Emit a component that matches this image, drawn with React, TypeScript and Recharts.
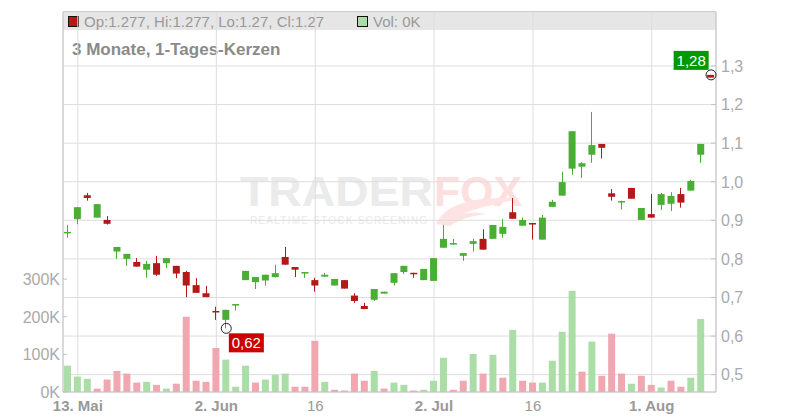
import React from 'react';
import { ComposedChart, Bar, XAxis, YAxis, CartesianGrid, Cell, ReferenceDot } from 'recharts';

const FONT = '"Liberation Sans", Arial, sans-serif';

// trading days, 12 May - 11 Aug 2025
const dates = [
  '12.05.', '13.05.', '14.05.', '15.05.', '16.05.', '19.05.', '20.05.', '21.05.', '22.05.', '23.05.',
  '26.05.', '27.05.', '28.05.', '29.05.', '30.05.', '02.06.', '03.06.', '04.06.', '05.06.', '06.06.',
  '09.06.', '10.06.', '11.06.', '12.06.', '13.06.', '16.06.', '17.06.', '18.06.', '19.06.', '20.06.',
  '23.06.', '24.06.', '25.06.', '26.06.', '27.06.', '30.06.', '01.07.', '02.07.', '03.07.', '04.07.',
  '07.07.', '08.07.', '09.07.', '10.07.', '11.07.', '14.07.', '15.07.', '16.07.', '17.07.', '18.07.',
  '21.07.', '22.07.', '23.07.', '24.07.', '25.07.', '28.07.', '29.07.', '30.07.', '31.07.', '01.08.',
  '04.08.', '05.08.', '06.08.', '07.08.', '08.08.', '11.08.',
];

const opens = [
  0.868, 0.903, 0.965, 0.907, 0.901, 0.819, 0.8, 0.792, 0.772, 0.789,
  0.789, 0.782, 0.766, 0.732, 0.711, 0.665, 0.642, 0.679, 0.745, 0.74,
  0.744, 0.753, 0.805, 0.779, 0.762, 0.745, 0.754, 0.731, 0.745, 0.705,
  0.678, 0.694, 0.71, 0.738, 0.766, 0.764, 0.745, 0.743, 0.829, 0.837,
  0.808, 0.839, 0.852, 0.852, 0.865, 0.921, 0.886, 0.893, 0.85, 0.935,
  0.964, 1.034, 1.039, 1.07, 1.098, 0.97, 0.948, 0.984, 0.901, 0.916,
  0.94, 0.943, 0.968, 0.977, 1.07, 1.277,
];
const highs = [
  0.888, 0.934, 0.971, 0.942, 0.911, 0.831, 0.813, 0.802, 0.795, 0.808,
  0.802, 0.782, 0.769, 0.75, 0.73, 0.676, 0.668, 0.683, 0.769, 0.753,
  0.759, 0.785, 0.831, 0.779, 0.766, 0.751, 0.764, 0.748, 0.745, 0.711,
  0.686, 0.722, 0.715, 0.763, 0.782, 0.764, 0.774, 0.802, 0.888, 0.852,
  0.815, 0.852, 0.877, 0.888, 0.903, 0.958, 0.907, 0.893, 0.914, 0.953,
  1.026, 1.131, 1.051, 1.181, 1.098, 0.981, 0.951, 0.984, 0.932, 0.968,
  0.971, 0.973, 0.984, 1.005, 1.098, 1.277,
];
const lows = [
  0.855, 0.89, 0.951, 0.907, 0.889, 0.8, 0.782, 0.78, 0.751, 0.756,
  0.776, 0.75, 0.701, 0.712, 0.701, 0.642, 0.62, 0.666, 0.745, 0.722,
  0.731, 0.752, 0.785, 0.753, 0.751, 0.715, 0.754, 0.731, 0.723, 0.686,
  0.67, 0.691, 0.71, 0.731, 0.761, 0.751, 0.745, 0.743, 0.829, 0.837,
  0.795, 0.819, 0.824, 0.852, 0.855, 0.904, 0.886, 0.85, 0.85, 0.935,
  0.964, 1.018, 1.01, 1.049, 1.06, 0.951, 0.928, 0.956, 0.901, 0.907,
  0.927, 0.924, 0.933, 0.977, 1.049, 1.27,
];
const closes = [
  0.87, 0.934, 0.958, 0.942, 0.891, 0.831, 0.813, 0.78, 0.787, 0.759,
  0.802, 0.762, 0.731, 0.712, 0.701, 0.662, 0.668, 0.683, 0.769, 0.753,
  0.759, 0.763, 0.785, 0.772, 0.766, 0.731, 0.759, 0.748, 0.723, 0.691,
  0.67, 0.722, 0.715, 0.763, 0.782, 0.761, 0.774, 0.802, 0.852, 0.841,
  0.815, 0.846, 0.824, 0.888, 0.883, 0.904, 0.901, 0.89, 0.907, 0.948,
  0.999, 1.131, 1.048, 1.095, 1.088, 0.961, 0.95, 0.956, 0.932, 0.907,
  0.968, 0.963, 0.946, 1.002, 1.098, 1.27,
];
const volumes = [
  70000, 41000, 35000, 9000, 33000, 56000, 49000, 25000, 27000, 19000,
  9000, 22000, 200000, 30000, 27000, 117000, 86000, 14000, 70000, 25000,
  33000, 46000, 49000, 14000, 14000, 136000, 27000, 6000, 4000, 49000,
  30000, 56000, 9000, 25000, 19000, 4000, 6000, 30000, 91000, 6000,
  30000, 101000, 49000, 99000, 38000, 165000, 30000, 25000, 25000, 83000,
  160000, 269000, 54000, 134000, 43000, 155000, 49000, 22000, 43000, 19000,
  12000, 30000, 14000, 38000, 194000, 0,
];

const priceTicks = [0.5, 0.6, 0.7, 0.8, 0.9, 1.0, 1.1, 1.2, 1.3];
const volumeTicks = [0, 100000, 200000, 300000];
const tickDates = ['13.05.', '02.06.', '16.06.', '02.07.', '16.07.', '01.08.'];
const tickLabels = ['13. Mai', '2. Jun', '16', '2. Jul', '16', '1. Aug'];
const boldTicks = [true, true, false, true, false, true];

const UP = '#4aae34';
const DOWN = '#b41818';
const VOL_UP = '#abdea7';
const VOL_DOWN = '#f0a7b0';
const GRID = '#dddddd';
const AXIS = '#c4c4c4';

const data = dates.map((date, i) => ({
  date,
  open: opens[i],
  high: highs[i],
  low: lows[i],
  close: closes[i],
  range: [lows[i], highs[i]],
  vol: volumes[i],
  volUp: i === 0 ? closes[i] >= opens[i] : closes[i] >= closes[i - 1],
}));

const lastIdx = dates.length - 1;
const minLow = Math.min(...lows);
const minIdx = lows.indexOf(minLow);
const fmt = (v: number, d: number) => v.toFixed(d).replace('.', ',');

function Candle(props: any) {
  const { x, y, width, height, payload } = props;
  if (!payload) return null;
  const { open, high, low, close } = payload;
  const span = high - low;
  const ppu = span > 0 ? height / span : 0;
  const yOf = (v: number) => y + (high - v) * ppu;
  const up = close >= open;
  const color = up ? UP : DOWN;
  const cx = Math.floor(x + width / 2) + 0.5;
  const top = yOf(Math.max(open, close));
  const bot = yOf(Math.min(open, close));
  return (
    <g>
      <line x1={cx} x2={cx} y1={y} y2={y + height} stroke={color} strokeWidth={1} />
      <rect x={x} y={top} width={width} height={Math.max(bot - top, 1.5)} fill={color} />
    </g>
  );
}

function RightTick(props: any) {
  const { x, y, payload } = props;
  return (
    <g>
      <line x1={x - 5} x2={x} y1={y} y2={y} stroke={AXIS} />
      <text x={x + 5} y={y} dy="0.36em" fill="#aaaaaa" fontSize={16} fontFamily={FONT}>
        {fmt(payload.value, 1)}
      </text>
    </g>
  );
}

function LeftTick(props: any) {
  const { x, y, payload } = props;
  return (
    <g>
      <line x1={x} x2={x + 4} y1={y} y2={y} stroke={AXIS} />
      <text x={x - 3} y={y} dy="0.36em" textAnchor="end" fill="#aaaaaa" fontSize={16} fontFamily={FONT}>
        {`${payload.value / 1000}K`}
      </text>
    </g>
  );
}

function BottomTick(props: any) {
  const { x, y, payload } = props;
  const k = tickDates.indexOf(payload.value);
  if (k < 0) return null;
  return (
    <text
      x={x}
      y={y + 19}
      textAnchor="middle"
      fill="#999999"
      fontSize={15}
      fontWeight={boldTicks[k] ? 'bold' : 'normal'}
      fontFamily={FONT}
    >
      {tickLabels[k]}
    </text>
  );
}

function LowMarker(props: any) {
  const { cx, cy } = props;
  return (
    <g>
      <circle cx={cx} cy={cy} r={5} fill="none" stroke="#222" strokeWidth={1} />
      <rect x={cx + 2.6} y={cy + 5} width={35} height={19} fill="#cc0000" />
      <text x={cx + 5.5} y={cy + 20} fill="#fff" fontSize={15} fontFamily={FONT}>
        {fmt(minLow, 2)}
      </text>
    </g>
  );
}

function LastMarker(props: any) {
  const { cx, cy } = props;
  return (
    <g>
      <circle cx={cx} cy={cy} r={5} fill="none" stroke="#222" strokeWidth={1} />
      <rect x={cx - 37.4} y={cy - 24} width={35} height={19} fill="#009900" />
      <text x={cx - 34.5} y={cy - 9} fill="#fff" fontSize={15} fontFamily={FONT}>
        {fmt(highs[lastIdx], 2)}
      </text>
    </g>
  );
}

function Backdrop() {
  return (
    <svg width={800} height={420} style={{ position: 'absolute', left: 0, top: 0 }}>
      <rect x={63} y={11.5} width={653} height={18.5} fill="#e6e6e6" />
      <line x1={63} x2={716} y1={11.5} y2={11.5} stroke={AXIS} />
      <rect x={68.5} y={16.5} width={10} height={10} fill="#b41818" stroke="#111" />
      <text x={84} y={27} fill="#999999" fontSize={15} fontFamily={FONT}>
        {`Op:${opens[lastIdx]}, Hi:${highs[lastIdx]}, Lo:${lows[lastIdx]}, Cl:${closes[lastIdx]}`}
      </text>
      <rect x={357.5} y={16.5} width={10} height={10} fill={VOL_UP} stroke="#111" />
      <text x={373} y={27} fill="#999999" fontSize={15} fontFamily={FONT}>
        {`Vol: ${volumes[lastIdx] / 1000}K`}
      </text>
      <text x={72} y={55} fill="#8a8a8a" fontSize={17} fontWeight="bold" fontFamily={FONT}>
        3 Monate, 1-Tages-Kerzen
      </text>
      <g opacity={0.9}>
        <text x={240} y={206} fill="#e9e9e9" fontSize={43} fontWeight="bold" fontFamily={FONT} textLength={193} lengthAdjust="spacingAndGlyphs">
          TRADER
        </text>
        <text x={434} y={206} fill="#fddcdc" fontSize={43} fontWeight="bold" fontFamily={FONT} textLength={88} lengthAdjust="spacingAndGlyphs">
          FOX
        </text>
        <path d="M436,224 C444,206 468,196 522,198 C500,203 476,208 462,214 C470,212 478,212 486,214 C470,216 458,220 450,226 Z" fill="#fde0e0" />
        <text x={250} y={224} fill="#e6e6e6" fontSize={10} fontFamily={FONT} textLength={177} lengthAdjust="spacing">
          REALTIME STOCK SCREENING
        </text>
      </g>
    </svg>
  );
}

export default function App() {
  return (
    <div style={{ position: 'fixed', left: 0, top: 0, width: 800, height: 420, background: '#fff', overflow: 'hidden' }}>
      <Backdrop />
      <div style={{ position: 'absolute', left: 0, top: 0 }}>
        <ComposedChart width={800} height={420} data={data} margin={{ top: 12, right: 0, bottom: 0, left: 0 }}>
          <CartesianGrid xAxisId="c" yAxisId="p" stroke={GRID} />
          <XAxis
            xAxisId="c"
            dataKey="date"
            type="category"
            ticks={tickDates}
            interval={0}
            height={28}
            tickSize={0}
            tickMargin={0}
            tickLine={false}
            axisLine={{ stroke: AXIS }}
            tick={<BottomTick />}
          />
          <XAxis xAxisId="v" dataKey="date" type="category" hide />
          <YAxis
            yAxisId="v"
            orientation="left"
            width={63}
            domain={[0, 1010000]}
            ticks={volumeTicks}
            interval={0}
            allowDataOverflow
            tickSize={0}
            tickMargin={0}
            tickLine={false}
            axisLine={{ stroke: AXIS }}
            tick={<LeftTick />}
          />
          <YAxis
            yAxisId="p"
            orientation="right"
            width={84}
            domain={[0.455, 1.44]}
            ticks={priceTicks}
            interval={0}
            allowDataOverflow
            tickSize={0}
            tickMargin={0}
            tickLine={false}
            axisLine={{ stroke: AXIS }}
            tick={<RightTick />}
          />
          <Bar xAxisId="v" yAxisId="v" dataKey="vol" barSize={7} isAnimationActive={false}>
            {data.map((d, i) => (
              <Cell key={i} fill={d.volUp ? VOL_UP : VOL_DOWN} />
            ))}
          </Bar>
          <Bar
            xAxisId="c"
            yAxisId="p"
            dataKey="range"
            barSize={7}
            isAnimationActive={false}
            shape={(p: any) => <Candle {...p} />}
          />
          <ReferenceDot
            xAxisId="c"
            yAxisId="p"
            x={dates[minIdx]}
            y={minLow}
            r={5}
            shape={(p: any) => <LowMarker {...p} />}
          />
          <ReferenceDot
            xAxisId="c"
            yAxisId="p"
            x={dates[lastIdx]}
            y={highs[lastIdx]}
            r={5}
            shape={(p: any) => <LastMarker {...p} />}
          />
        </ComposedChart>
      </div>
    </div>
  );
}
